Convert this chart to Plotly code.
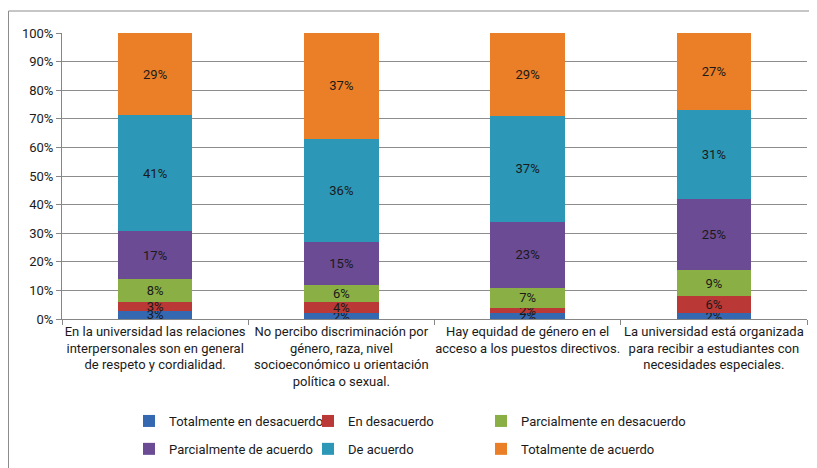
import plotly.graph_objects as go

categories = [
    "En la universidad las relaciones<br>interpersonales son en general<br>de respeto y cordialidad.",
    "No percibo discriminación por<br>género, raza, nivel<br>socioeconómico u orientación<br>política o sexual.",
    "Hay equidad de género en el<br>acceso a los puestos directivos.",
    "La universidad está organizada<br>para recibir a estudiantes con<br>necesidades especiales.",
]

series_names = [
    "Totalmente en desacuerdo",
    "En desacuerdo",
    "Parcialmente en desacuerdo",
    "Parcialmente de acuerdo",
    "De acuerdo",
    "Totalmente de acuerdo",
]

totalmente_desacuerdo = [3, 2, 2, 2]
en_desacuerdo = [3, 4, 2, 6]
parcial_desacuerdo = [8, 6, 7, 9]
parcial_acuerdo = [17, 15, 23, 25]
de_acuerdo = [41, 36, 37, 31]
totalmente_acuerdo = [29, 37, 29, 27]

series_values = [
    totalmente_desacuerdo,
    en_desacuerdo,
    parcial_desacuerdo,
    parcial_acuerdo,
    de_acuerdo,
    totalmente_acuerdo,
]

colors = ["#3468B0", "#BA3835", "#8AAF45", "#6A4B94", "#2C97B6", "#EB7F27"]
legend_ids = ["legend", "legend2", "legend3", "legend", "legend2", "legend3"]

FONT = "Roboto, Arial, sans-serif"

fig = go.Figure()
for name, vals, col, lg in zip(series_names, series_values, colors, legend_ids):
    fig.add_trace(go.Bar(
        x=categories,
        y=vals,
        name=name,
        legend=lg,
        legendgroup=name,
        marker=dict(color=col, line=dict(width=0)),
        text=[f"{v}%" for v in vals],
        texttemplate="%{text}",
        textposition="inside",
        insidetextanchor="middle",
        constraintext="none",
        textfont=dict(color="#1a1a1a", size=13, family=FONT),
        hovertemplate="%{x}<br>" + name + ": %{text}<extra></extra>",
    ))

# page offset from the default body margin of the html page
OFF = 8
W, H = 817 - OFF, 468 - OFF
# target plot area in page pixels: x 62..807, y 33..319
ml, mt = 62 - OFF, 33 - OFF
mr = W - (807 - OFF)
mb = H - (319 - OFF)
pw, ph = W - ml - mr, H - mt - mb

def px_x(x):
    return (x - 62) / pw

def px_y(y):
    return (319 - y) / ph

legend_common = dict(
    orientation="v",
    font=dict(size=13, family=FONT, color="#1a1a1a"),
    bgcolor="rgba(0,0,0,0)",
    itemwidth=30,
    tracegroupgap=8,
    xanchor="left",
    yanchor="top",
    itemclick=False,
    itemdoubleclick=False,
)

fig.update_layout(
    width=W,
    height=H,
    margin=dict(l=ml, r=mr, t=mt, b=mb, autoexpand=False),
    barmode="stack",
    barnorm="percent",
    bargap=0.6,
    plot_bgcolor="white",
    paper_bgcolor="white",
    font=dict(family=FONT, size=13, color="#1a1a1a"),
    uniformtext=dict(minsize=13, mode="show"),
    showlegend=True,
    legend=dict(x=px_x(129), y=px_y(406), **legend_common),
    legend2=dict(x=px_x(308), y=px_y(406), **legend_common),
    legend3=dict(x=px_x(481), y=px_y(406), **legend_common),
    xaxis=dict(
        showline=True,
        linecolor="#868686",
        linewidth=1,
        ticks="outside",
        tickson="boundaries",
        ticklen=5,
        tickcolor="#868686",
        tickangle=0,
        automargin=False,
        tickfont=dict(size=13, family=FONT, color="#1a1a1a"),
        showgrid=False,
    ),
    yaxis=dict(
        range=[0, 100],
        dtick=10,
        ticksuffix="%",
        showline=True,
        linecolor="#868686",
        linewidth=1,
        ticks="outside",
        ticklen=5,
        tickcolor="#868686",
        automargin=False,
        showgrid=True,
        gridcolor="#8C8C8C",
        gridwidth=1,
        tickfont=dict(size=13, family=FONT, color="#1a1a1a"),
        zeroline=False,
    ),
    shapes=[
        dict(
            type="rect", xref="paper", yref="paper",
            x0=px_x(8.5), y0=px_y(480), x1=px_x(830), y1=px_y(11),
            line=dict(color="#8C8C8C", width=1), fillcolor="rgba(0,0,0,0)",
            layer="below",
        )
    ],
)

fig.write_html("out.html")
